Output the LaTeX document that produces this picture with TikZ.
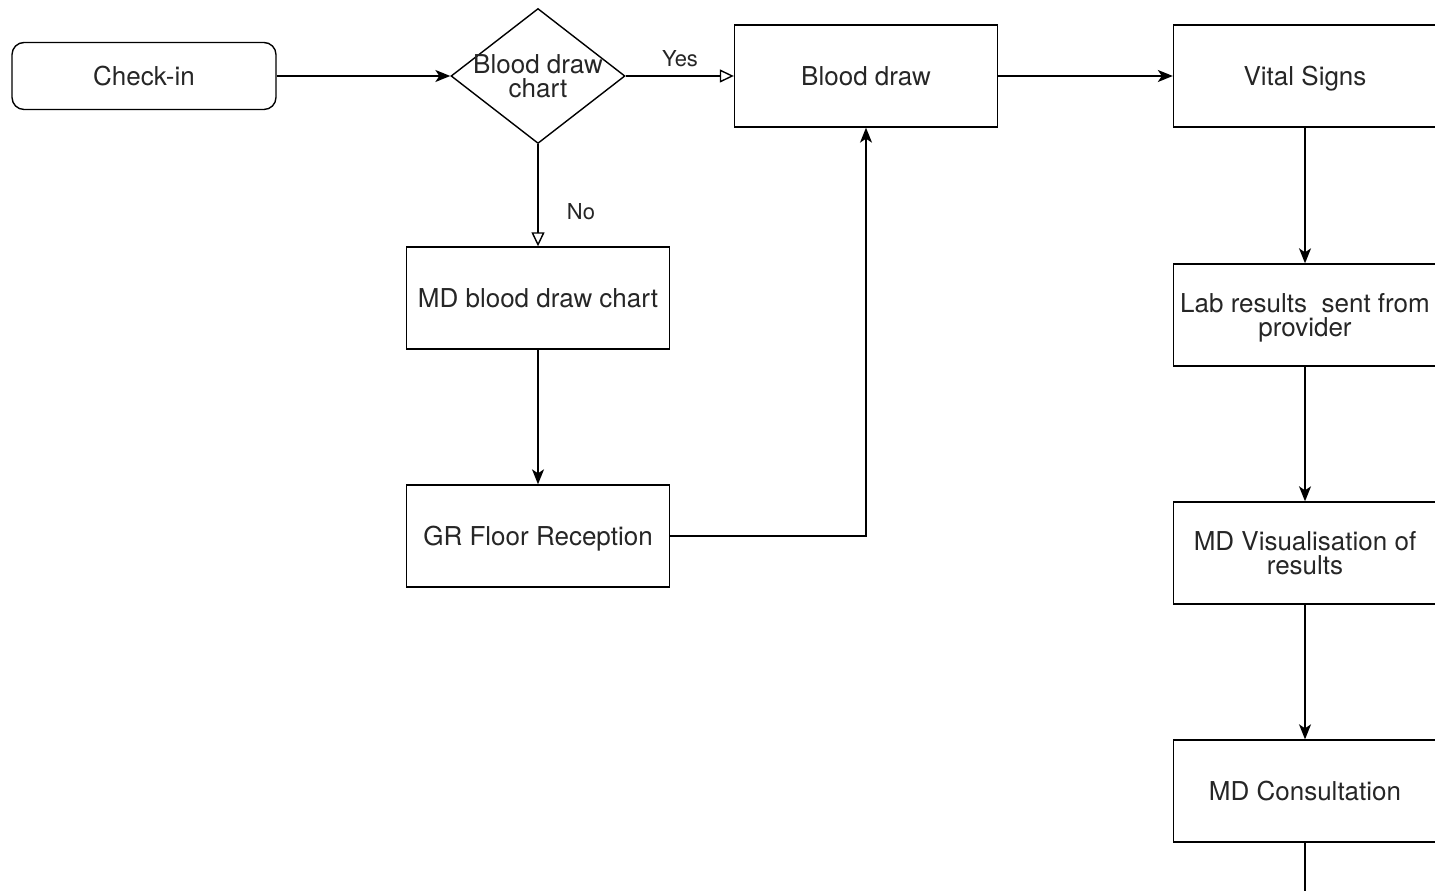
\documentclass[tikz,border=0pt]{standalone}
\usepackage{fontspec}
\setmainfont{TeX Gyre Heros}
\usetikzlibrary{shapes.geometric,arrows.meta}
\tikzset{
  boxtext/.style={font=\fontsize{14.8}{13.6}\selectfont, text=black!85},
  stepbox/.style={draw, line width=0.8pt, minimum width=5.26cm, minimum height=2.04cm,
    inner sep=0pt, text depth=0pt, align=center, boxtext},
  startbox/.style={stepbox, rounded corners=0.24cm, minimum width=5.28cm, minimum height=1.34cm},
  decision/.style={draw, diamond, line width=0.8pt, minimum width=3.48cm, minimum height=2.7cm,
    inner sep=0pt},
  flow/.style={line width=0.8pt, -{Stealth[length=0.3cm, width=0.24cm, inset=0.08cm]}},
  branch/.style={line width=0.8pt, -{Triangle[open, length=0.28cm, width=0.26cm]}},
  tag/.style={font=\fontsize{12.5}{14}\selectfont, text=black!85}
}
\begin{document}
\begin{tikzpicture}[x=0.02cm, y=-0.02cm]
    \clip (0,0) rectangle (1435,891);
    % left column
    \node[startbox] (checkin) at (144,76) {Check-in};
    \node[decision, label={[boxtext, align=center]center:Blood draw\\chart}] (chart) at (538,76) {};
    \node[stepbox] (mdchart) at (538,298) {MD blood draw chart};
    \node[stepbox] (reception) at (538,536) {GR Floor Reception};
    % middle and right column
    \node[stepbox] (draw) at (866,76) {Blood draw};
    \node[stepbox] (vitals) at (1305,76) {Vital Signs};
    \node[stepbox] (lab) at (1305,315) {Lab results\ \ sent from\\provider};
    \node[stepbox] (visual) at (1305,553) {MD Visualisation of\\results};
    \node[stepbox] (consult) at (1305,791) {MD Consultation};
    \coordinate (out) at (1305,900);
    % connectors
    \draw[flow] (checkin) -- (chart);
    \draw[branch] (chart.east) -- (draw.west);
    \draw[branch] (chart.south) -- (mdchart.north);
    \node[tag] (yes) at (680,59) {Yes};
    \node[tag] (no) at (581,212) {No};
    \draw[flow] (mdchart) -- (reception);
    \draw[flow] (reception.east) -| (draw.south);
    \draw[flow] (draw) -- (vitals);
    \draw[flow] (vitals) -- (lab);
    \draw[flow] (lab) -- (visual);
    \draw[flow] (visual) -- (consult);
    \draw[line width=0.8pt] (consult) -- (out);
\end{tikzpicture}
\end{document}
